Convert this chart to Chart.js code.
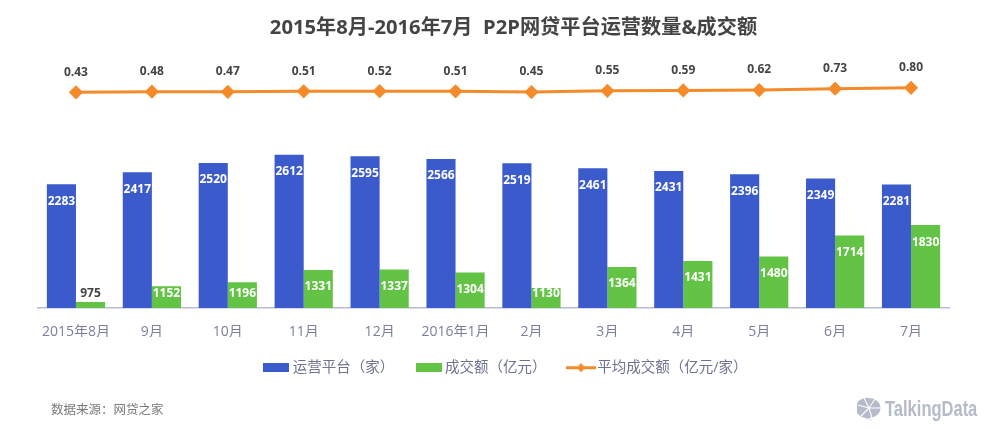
<!DOCTYPE html>
<html lang="zh"><head><meta charset="utf-8">
<style>
html,body{margin:0;padding:0;background:#fff;width:1000px;height:437px;overflow:hidden}
#wrap{position:relative;width:1000px;height:437px}
canvas{display:block}
.src{position:absolute;left:51px;top:401px;font:12.5px/18px "Open Sans","Noto Sans CJK SC",sans-serif;color:#7a7a7a}
.logo{position:absolute;left:857px;top:396px;height:26px;display:flex;align-items:center;color:#b4bbca;font:bold 22px "Liberation Sans",sans-serif}
.logo svg{margin-right:4px}
.logo span{display:inline-block;transform-origin:left center;transform:scaleX(.75)}
</style>
<script src="https://cdn.jsdelivr.net/npm/chart.js@4"></script>
</head><body><div id="wrap"><canvas id="c" width="1000" height="437"></canvas>
<div class="src">数据来源：网贷之家</div>
<div class="logo"><svg width="24" height="24" viewBox="0 0 24 24"><path d="M12 1a11.5 10 0 0 1 0 20l-1 .2 5 2.8-7.5-3A11.5 10 0 0 1 12 1z" fill="#b4bbca"/><path d="M12 11 7 1M12 11 18 2M12 11H24M12 11 1 8M12 11 4 19M12 11l3 10" stroke="#fff" stroke-width="1.1"/></svg><span>TalkingData</span></div>
</div>
<script>
const categories = ["2015年8月","9月","10月","11月","12月","2016年1月","2月","3月","4月","5月","6月","7月"];
const platforms = [2283,2417,2520,2612,2595,2566,2519,2461,2431,2396,2349,2281];
const volumes = [975,1152,1196,1331,1337,1304,1130,1364,1431,1480,1714,1830];
const averages = [0.43,0.48,0.47,0.51,0.52,0.51,0.45,0.55,0.59,0.62,0.73,0.80];
const averageLabels = ["0.43","0.48","0.47","0.51","0.52","0.51","0.45","0.55","0.59","0.62","0.73","0.80"];
const titleText = "2015年8月-2016年7月  P2P网贷平台运营数量&成交额";
const seriesNames = ["运营平台（家）","成交额（亿元）","平均成交额（亿元/家）"];
const BLUE="#3b5bcc", GREEN="#63c344", ORANGE="#f58a2a", FONT='"Open Sans","Noto Sans CJK SC",sans-serif';

function swatch(color){const c=document.createElement('canvas');c.width=26;c.height=9;const x=c.getContext('2d');x.fillStyle=color;x.fillRect(0,0,26,9);return c;}
function lineSwatch(){const c=document.createElement('canvas');c.width=30;c.height=11;const x=c.getContext('2d');x.fillStyle=ORANGE;x.fillRect(0,4,30,3);x.beginPath();x.moveTo(15,1);x.lineTo(19.5,5.5);x.lineTo(15,10);x.lineTo(10.5,5.5);x.closePath();x.fill();return c;}
const legendStyles=[swatch(BLUE),swatch(GREEN),lineSwatch()];

const placePlugin={id:'place',afterLayout(chart){
  const t=chart.titleBlock; t.left+=20; t.right+=20;
  const l=chart.legend; l.left+=14; l.right+=14; const h=l.height; l.top=335; l.bottom=335+h;
}};
const labelPlugin={id:'valueLabels',afterDatasetsDraw(chart){
  const ctx=chart.ctx; ctx.save();
  ctx.font='bold 12px '+FONT; ctx.textAlign='center'; ctx.textBaseline='middle';
  chart.getDatasetMeta(1).data.forEach((el,i)=>{ctx.fillStyle='#fff';ctx.fillText(String(platforms[i]),el.x,Math.min(el.y+17,293.5));});
  chart.getDatasetMeta(2).data.forEach((el,i)=>{ctx.fillStyle=volumes[i]<1000?'#444':'#fff';ctx.fillText(String(volumes[i]),el.x,Math.min(el.y+17,293.5));});
  chart.getDatasetMeta(0).data.forEach((el,i)=>{ctx.fillStyle='#444';ctx.fillText(averageLabels[i],el.x,el.y-20);});
  ctx.restore();
}};
new Chart(document.getElementById('c'),{
  data:{labels:categories,datasets:[
    {type:'line',label:seriesNames[2],data:averages,yAxisID:'yLine',borderColor:ORANGE,backgroundColor:ORANGE,borderWidth:3,pointStyle:'rectRot',pointRadius:5,pointBackgroundColor:ORANGE,pointBorderColor:ORANGE,tension:0,order:0},
    {type:'bar',label:seriesNames[0],data:platforms,yAxisID:'yBar',backgroundColor:BLUE,categoryPercentage:.767,barPercentage:1,order:1},
    {type:'bar',label:seriesNames[1],data:volumes,yAxisID:'yBar',backgroundColor:GREEN,categoryPercentage:.767,barPercentage:1,order:1}
  ]},
  options:{responsive:false,animation:false,devicePixelRatio:1,
    layout:{padding:{left:38,right:51,top:0,bottom:50}},
    plugins:{
      tooltip:{enabled:false},
      title:{display:true,text:titleText,color:'#444',font:{family:FONT,size:20.2,weight:'bold'},padding:{top:16.5,bottom:19.3}},
      legend:{position:'bottom',onClick:null,labels:{color:'#6f7391',font:{family:FONT,size:14.5},usePointStyle:true,pointStyleWidth:18,padding:25.5,
        generateLabels(){return [0,1,2].map(i=>({text:seriesNames[i],pointStyle:legendStyles[i],datasetIndex:i,lineWidth:0,fontColor:'#6f7391'}));}}}
    },
    scales:{
      x:{grid:{display:false,drawTicks:false},border:{color:'#b8bdd6',width:1.5},afterFit(s){s.height=29;},
         ticks:{color:'#7b7f9e',font:{family:FONT,size:14},padding:16,maxRotation:0,autoSkip:false}},
      yBar:{display:false,min:909,max:3664.6},
      yLine:{display:false,min:-17.55,max:3.12}
    }
  },
  plugins:[placePlugin,labelPlugin]
});
</script></body></html>
